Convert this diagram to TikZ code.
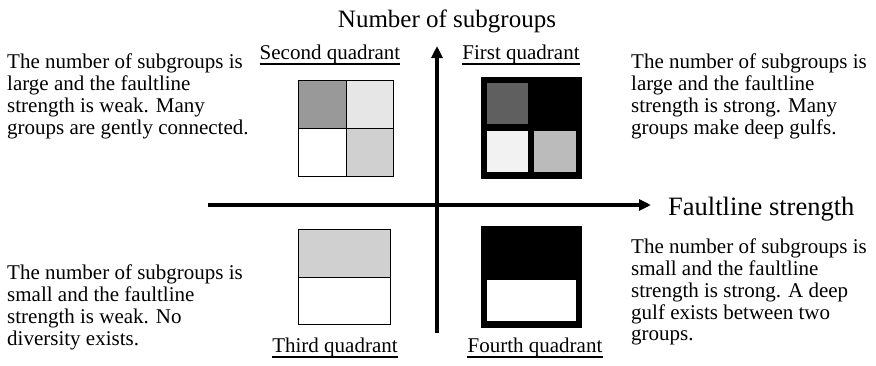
\documentclass[tikz,border=0pt]{standalone}
\usepackage{fontspec}
\setmainfont{Liberation Serif}
\usetikzlibrary{arrows.meta}
\definecolor{gA}{HTML}{999999}
\definecolor{gB}{HTML}{E6E6E6}
\definecolor{gC}{HTML}{D0D0D0}
\definecolor{gD}{HTML}{5F5F5F}
\definecolor{gE}{HTML}{F2F2F2}
\definecolor{gF}{HTML}{BBBBBB}
\begin{document}
\begin{tikzpicture}[x=1pt,y=-1pt,
  body/.style={inner sep=0pt,anchor=north west,align=left,font=\fontsize{21}{21.7}\selectfont},
  big/.style={inner sep=0pt,font=\fontsize{25}{27}\selectfont},
  bigger/.style={inner sep=0pt,font=\fontsize{26.5}{28}\selectfont},
  qlabel/.style={inner sep=0pt,anchor=base,font=\fontsize{21}{21.7}\selectfont},
  uline/.style={line width=1.3pt},
  axis/.style={line width=3.5pt,-{Triangle[length=12pt,width=11pt]}},
  cell/.style={draw=black,line width=0.9pt}]
\useasboundingbox (0,0) rectangle (876,365);

% axes
\coordinate (xs) at (208,205);
\coordinate (xe) at (651,205);
\coordinate (ys) at (437,333);
\coordinate (ye) at (437,46);
\draw[axis] (xs) -- (xe);
\draw[axis] (ys) -- (ye);

% axis titles
\node[big,anchor=base] (ytitle) at (447,27) {Number of subgroups};
\node[bigger,anchor=base west] (xtitle) at (668,215) {Faultline strength};

% quadrant labels
\node[qlabel] (q2) at (330,59) {Second quadrant};
\node[qlabel] (q1) at (521,59) {First quadrant};
\node[qlabel] (q3) at (335,352) {Third quadrant};
\node[qlabel] (q4) at (535,352) {Fourth quadrant};
\foreach \q in {q1,q2,q3,q4}{
  \draw[uline] ([yshift=-5pt]\q.base west) -- ([yshift=-5pt]\q.base east);
}

% second quadrant box
\path[cell,fill=gA] (298,80) rectangle (346,128);
\path[cell,fill=gB] (346,80) rectangle (393,128);
\path[cell,fill=white] (298,128) rectangle (346,176);
\path[cell,fill=gC] (346,128) rectangle (393,176);

% first quadrant box
\fill[black] (481,77) rectangle (582,179);
\fill[gD] (487,83) rectangle (528,124);
\fill[gE] (487,131) rectangle (528,172);
\fill[gF] (534,131) rectangle (576,172);

% third quadrant box
\path[cell,fill=gC] (298,229) rectangle (390,277);
\path[cell,fill=white] (298,277) rectangle (390,324);

% fourth quadrant box
\fill[black] (481,226) rectangle (582,328);
\fill[white] (487,280) rectangle (576,321);

% descriptions
\node[body] (t2) at (7,54) {The number of subgroups is\\large and the faultline\\strength is weak. Many\\groups are gently connected.};
\node[body] (t1) at (631,54) {The number of subgroups is\\large and the faultline\\strength is strong. Many\\groups make deep gulfs.};
\node[body] (t3) at (7,265) {The number of subgroups is\\small and the faultline\\strength is weak. No\\diversity exists.};
\node[body] (t4) at (631,239) {The number of subgroups is\\small and the faultline\\strength is strong. A deep\\gulf exists between two\\groups.};
\end{tikzpicture}
\end{document}
